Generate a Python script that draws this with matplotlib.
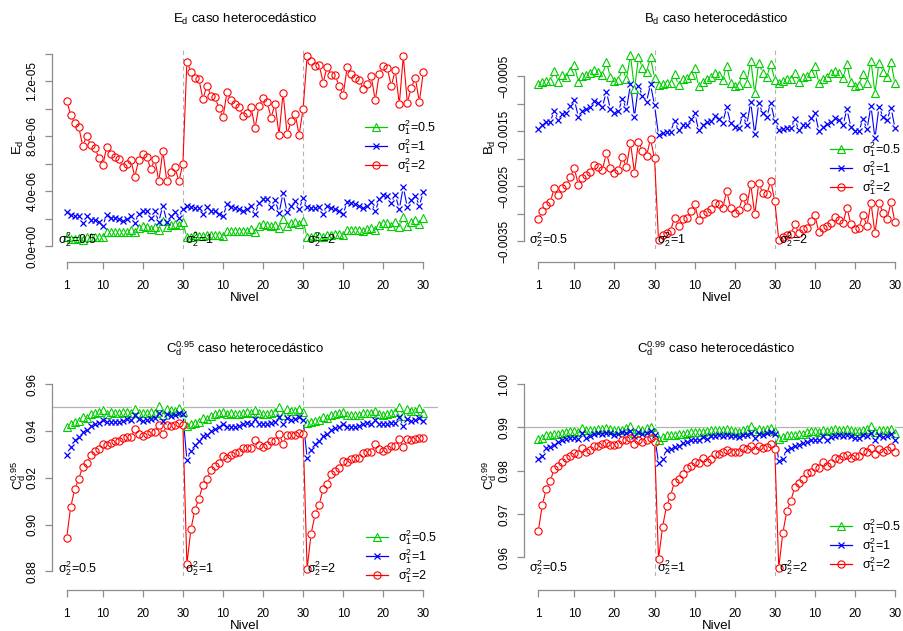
import numpy as np
import matplotlib
matplotlib.use("Agg")
import matplotlib.pyplot as plt
from matplotlib.lines import Line2D

plt.rcParams['font.family'] = ['Liberation Sans', 'DejaVu Sans']
plt.rcParams['mathtext.fontset'] = 'custom'
plt.rcParams['mathtext.rm'] = 'Liberation Sans'
plt.rcParams['mathtext.it'] = 'Liberation Sans:italic'
plt.rcParams['mathtext.bf'] = 'Liberation Sans:bold'

# ---- data: 3 blocks (sigma2^2 = 0.5, 1, 2) x 30 levels ----
nivel = np.arange(1, 91)
xtick_pos = [1, 10, 20, 30, 40, 50, 60, 70, 80, 90]
xtick_lab = ['1', '10', '20', '30', '10', '20', '30', '10', '20', '30']
series_labels = [r'$\mathrm{\sigma}_1^2$=0.5', r'$\mathrm{\sigma}_1^2$=1', r'$\mathrm{\sigma}_1^2$=2']
block_labels = [r'$\mathrm{\sigma}_2^2$=0.5', r'$\mathrm{\sigma}_2^2$=1', r'$\mathrm{\sigma}_2^2$=2']

# E_d (x 1e-6)
ed_green = np.array([
    0.65, 0.56, 0.56, 0.58, 0.48, 0.68, 0.68, 0.68, 0.68, 0.65, 1.02, 1.02, 1.02, 1.02, 1.02,
    1.02, 1.16, 1.02, 1.33, 1.45, 1.40, 1.28, 1.40, 1.21, 1.86, 1.38, 1.57, 1.62, 1.57, 1.74,
    0.65, 0.65, 0.80, 0.73, 0.73, 0.85, 0.85, 0.85, 0.85, 0.77, 1.14, 1.14, 1.09, 1.09, 1.09,
    1.14, 1.26, 1.04, 1.52, 1.62, 1.57, 1.45, 1.57, 1.33, 2.01, 1.45, 1.69, 1.77, 1.62, 1.86,
    0.65, 0.65, 0.73, 0.73, 0.68, 0.85, 0.85, 0.92, 0.92, 0.85, 1.16, 1.16, 1.16, 1.16, 1.14,
    1.26, 1.33, 1.16, 1.57, 1.69, 1.69, 1.52, 1.74, 1.40, 2.13, 1.52, 1.81, 1.93, 1.62, 2.06]) * 1e-6
ed_blue = np.array([
    2.47, 2.30, 2.18, 2.18, 1.69, 2.18, 1.93, 1.93, 1.74, 1.52, 2.30, 2.10, 2.03, 1.98, 1.86,
    1.98, 2.18, 1.69, 2.37, 2.54, 2.54, 2.10, 2.54, 1.81, 2.97, 1.81, 2.18, 2.49, 2.10, 2.71,
    2.97, 2.83, 2.78, 2.78, 2.35, 2.83, 2.59, 2.54, 2.37, 2.18, 3.05, 2.85, 2.78, 2.71, 2.54,
    2.71, 2.97, 2.35, 3.14, 3.43, 3.43, 2.83, 3.39, 2.42, 3.87, 2.49, 2.97, 3.31, 2.71, 3.53,
    2.83, 2.78, 2.78, 2.83, 2.35, 2.97, 2.78, 2.73, 2.59, 2.35, 3.26, 3.14, 3.07, 2.97, 2.78,
    2.97, 3.22, 2.54, 3.43, 3.75, 3.70, 3.14, 3.75, 2.71, 4.33, 2.83, 3.39, 3.68, 2.97, 3.94]) * 1e-6
ed_red = np.array([
    10.57, 9.58, 8.95, 8.68, 7.33, 8.00, 7.35, 7.18, 6.46, 5.88, 7.25, 6.75, 6.48, 6.34, 5.78,
    5.97, 6.29, 5.08, 6.29, 6.70, 6.53, 5.59, 6.36, 4.72, 6.94, 4.74, 5.39, 5.78, 4.72, 6.02,
    13.42, 12.69, 12.21, 12.14, 10.71, 11.68, 10.95, 10.83, 10.08, 9.38, 11.20, 10.64, 10.32, 10.11, 9.48,
    9.72, 10.16, 8.58, 10.23, 10.78, 10.52, 9.36, 10.35, 8.10, 11.17, 8.15, 9.09, 9.65, 8.10, 9.99,
    13.83, 13.44, 13.13, 13.20, 11.90, 13.06, 12.48, 12.43, 11.65, 11.00, 13.03, 12.53, 12.26, 12.09, 11.46,
    11.82, 12.38, 10.61, 12.53, 13.13, 12.98, 11.63, 12.82, 10.32, 13.83, 10.45, 11.53, 12.26, 10.49, 12.69]) * 1e-6

# B_d (x 1e-3)
bd_green = np.array([
    -0.652, -0.615, -0.591, -0.591, -0.409, -0.603, -0.482, -0.512, -0.409, -0.300, -0.603, -0.500, -0.482, -0.452, -0.391,
    -0.421, -0.482, -0.239, -0.524, -0.585, -0.573, -0.361, -0.561, -0.118, -0.742, -0.161, -0.348, -0.421, -0.161, -0.530,
    -0.664, -0.652, -0.621, -0.621, -0.470, -0.664, -0.561, -0.542, -0.482, -0.361, -0.676, -0.603, -0.561, -0.512, -0.452,
    -0.482, -0.573, -0.312, -0.633, -0.676, -0.664, -0.464, -0.633, -0.221, -0.815, -0.258, -0.452, -0.512, -0.282, -0.573,
    -0.630, -0.591, -0.561, -0.561, -0.439, -0.603, -0.512, -0.500, -0.439, -0.318, -0.633, -0.561, -0.512, -0.452, -0.403,
    -0.452, -0.542, -0.288, -0.615, -0.676, -0.664, -0.464, -0.633, -0.221, -0.815, -0.258, -0.421, -0.512, -0.252, -0.633]) * 1e-3
bd_blue = np.array([
    -1.470, -1.391, -1.330, -1.330, -1.130, -1.300, -1.191, -1.167, -1.045, -0.936, -1.239, -1.130, -1.106, -1.058, -0.955,
    -0.997, -1.058, -0.785, -1.106, -1.167, -1.136, -0.918, -1.106, -0.652, -1.239, -0.676, -0.864, -0.967, -0.652, -1.027,
    -1.573, -1.542, -1.512, -1.512, -1.318, -1.482, -1.391, -1.391, -1.282, -1.167, -1.482, -1.391, -1.342, -1.318, -1.227,
    -1.282, -1.348, -1.070, -1.361, -1.433, -1.451, -1.209, -1.391, -0.979, -1.561, -0.997, -1.167, -1.239, -0.985, -1.318,
    -1.482, -1.470, -1.451, -1.451, -1.288, -1.482, -1.391, -1.391, -1.270, -1.167, -1.494, -1.421, -1.373, -1.330, -1.258,
    -1.300, -1.391, -1.106, -1.433, -1.494, -1.500, -1.282, -1.470, -1.045, -1.633, -1.058, -1.239, -1.300, -1.076, -1.451]) * 1e-3
bd_red = np.array([
    -3.106, -2.948, -2.845, -2.797, -2.530, -2.664, -2.530, -2.482, -2.330, -2.179, -2.482, -2.361, -2.300, -2.239, -2.118,
    -2.148, -2.209, -1.894, -2.179, -2.258, -2.209, -1.979, -2.148, -1.712, -2.258, -1.694, -1.864, -1.955, -1.645, -1.997,
    -3.482, -3.391, -3.348, -3.312, -3.076, -3.227, -3.106, -3.088, -2.948, -2.827, -3.118, -3.015, -2.967, -2.918, -2.803,
    -2.833, -2.906, -2.591, -2.894, -2.985, -2.936, -2.706, -2.888, -2.464, -3.015, -2.452, -2.621, -2.652, -2.409, -2.773,
    -3.482, -3.421, -3.391, -3.379, -3.197, -3.361, -3.282, -3.258, -3.136, -3.027, -3.342, -3.270, -3.221, -3.179, -3.058,
    -3.118, -3.179, -2.894, -3.197, -3.288, -3.258, -3.027, -3.221, -2.803, -3.361, -2.803, -2.985, -3.100, -2.797, -3.161]) * 1e-3

# C_d^0.95
c95_green = np.array([
    0.9418, 0.9429, 0.9439, 0.9443, 0.9460, 0.9453, 0.9472, 0.9477, 0.9479, 0.9489, 0.9470, 0.9479, 0.9475, 0.9475, 0.9479,
    0.9479, 0.9477, 0.9492, 0.9475, 0.9475, 0.9477, 0.9482, 0.9477, 0.9506, 0.9467, 0.9492, 0.9489, 0.9486, 0.9496, 0.9479,
    0.9422, 0.9428, 0.9435, 0.9439, 0.9453, 0.9449, 0.9463, 0.9470, 0.9475, 0.9482, 0.9470, 0.9475, 0.9470, 0.9470, 0.9475,
    0.9479, 0.9477, 0.9489, 0.9475, 0.9470, 0.9470, 0.9475, 0.9479, 0.9503, 0.9467, 0.9492, 0.9486, 0.9485, 0.9492, 0.9479,
    0.9435, 0.9436, 0.9443, 0.9446, 0.9458, 0.9453, 0.9467, 0.9472, 0.9475, 0.9482, 0.9467, 0.9467, 0.9467, 0.9467, 0.9475,
    0.9477, 0.9475, 0.9486, 0.9470, 0.9467, 0.9470, 0.9475, 0.9479, 0.9503, 0.9463, 0.9492, 0.9486, 0.9486, 0.9496, 0.9477])
c95_blue = np.array([
    0.9299, 0.9332, 0.9361, 0.9372, 0.9396, 0.9403, 0.9420, 0.9429, 0.9432, 0.9446, 0.9439, 0.9439, 0.9436, 0.9439, 0.9442,
    0.9449, 0.9446, 0.9467, 0.9449, 0.9443, 0.9446, 0.9449, 0.9453, 0.9475, 0.9443, 0.9470, 0.9465, 0.9467, 0.9475, 0.9470,
    0.9275, 0.9314, 0.9339, 0.9356, 0.9378, 0.9382, 0.9400, 0.9410, 0.9418, 0.9428, 0.9418, 0.9418, 0.9418, 0.9420, 0.9429,
    0.9435, 0.9429, 0.9449, 0.9429, 0.9428, 0.9429, 0.9435, 0.9436, 0.9460, 0.9428, 0.9453, 0.9446, 0.9449, 0.9458, 0.9446,
    0.9285, 0.9318, 0.9346, 0.9356, 0.9379, 0.9386, 0.9403, 0.9413, 0.9418, 0.9428, 0.9418, 0.9418, 0.9418, 0.9420, 0.9429,
    0.9435, 0.9429, 0.9446, 0.9429, 0.9428, 0.9428, 0.9435, 0.9435, 0.9458, 0.9422, 0.9452, 0.9442, 0.9446, 0.9453, 0.9442])
c95_red = np.array([
    0.8943, 0.9075, 0.9150, 0.9194, 0.9247, 0.9261, 0.9296, 0.9315, 0.9321, 0.9346, 0.9339, 0.9349, 0.9356, 0.9356, 0.9371,
    0.9375, 0.9375, 0.9408, 0.9385, 0.9378, 0.9386, 0.9396, 0.9396, 0.9425, 0.9386, 0.9425, 0.9420, 0.9425, 0.9432, 0.9425,
    0.8830, 0.8980, 0.9064, 0.9111, 0.9168, 0.9194, 0.9235, 0.9249, 0.9264, 0.9292, 0.9285, 0.9296, 0.9306, 0.9311, 0.9325,
    0.9328, 0.9325, 0.9361, 0.9339, 0.9329, 0.9339, 0.9356, 0.9358, 0.9386, 0.9346, 0.9382, 0.9382, 0.9382, 0.9389, 0.9386,
    0.8812, 0.8961, 0.9044, 0.9085, 0.9151, 0.9175, 0.9214, 0.9228, 0.9242, 0.9272, 0.9265, 0.9278, 0.9285, 0.9285, 0.9304,
    0.9308, 0.9308, 0.9342, 0.9321, 0.9315, 0.9321, 0.9335, 0.9336, 0.9365, 0.9329, 0.9365, 0.9363, 0.9365, 0.9368, 0.9368])

# C_d^0.99
c99_green = np.array([
    0.9873, 0.9875, 0.9883, 0.9883, 0.9885, 0.9885, 0.9886, 0.9890, 0.9892, 0.9892, 0.9890, 0.9898, 0.9894, 0.9893, 0.9894,
    0.9896, 0.9896, 0.9898, 0.9896, 0.9893, 0.9894, 0.9894, 0.9898, 0.9904, 0.9888, 0.9896, 0.9894, 0.9898, 0.9900, 0.9889,
    0.9871, 0.9877, 0.9883, 0.9883, 0.9883, 0.9885, 0.9885, 0.9888, 0.9890, 0.9890, 0.9890, 0.9890, 0.9892, 0.9894, 0.9893,
    0.9894, 0.9894, 0.9896, 0.9894, 0.9892, 0.9890, 0.9894, 0.9896, 0.9903, 0.9892, 0.9896, 0.9894, 0.9896, 0.9898, 0.9892,
    0.9873, 0.9877, 0.9883, 0.9883, 0.9883, 0.9885, 0.9885, 0.9890, 0.9892, 0.9892, 0.9890, 0.9894, 0.9892, 0.9893, 0.9896,
    0.9894, 0.9894, 0.9896, 0.9893, 0.9892, 0.9892, 0.9894, 0.9896, 0.9902, 0.9889, 0.9894, 0.9893, 0.9894, 0.9896, 0.9886])
c99_blue = np.array([
    0.9827, 0.9834, 0.9852, 0.9854, 0.9860, 0.9865, 0.9870, 0.9873, 0.9875, 0.9875, 0.9873, 0.9886, 0.9875, 0.9880, 0.9885,
    0.9888, 0.9885, 0.9888, 0.9886, 0.9883, 0.9885, 0.9890, 0.9888, 0.9892, 0.9881, 0.9890, 0.9885, 0.9886, 0.9892, 0.9883,
    0.9817, 0.9827, 0.9847, 0.9850, 0.9854, 0.9857, 0.9863, 0.9867, 0.9871, 0.9871, 0.9871, 0.9877, 0.9873, 0.9879, 0.9880,
    0.9883, 0.9880, 0.9883, 0.9880, 0.9879, 0.9877, 0.9883, 0.9883, 0.9888, 0.9875, 0.9885, 0.9883, 0.9886, 0.9890, 0.9885,
    0.9823, 0.9827, 0.9848, 0.9852, 0.9857, 0.9860, 0.9863, 0.9867, 0.9871, 0.9871, 0.9870, 0.9880, 0.9871, 0.9877, 0.9880,
    0.9883, 0.9880, 0.9883, 0.9880, 0.9875, 0.9875, 0.9883, 0.9880, 0.9888, 0.9871, 0.9883, 0.9877, 0.9880, 0.9885, 0.9871])
c99_red = np.array([
    0.9660, 0.9720, 0.9758, 0.9777, 0.9804, 0.9810, 0.9821, 0.9830, 0.9833, 0.9840, 0.9839, 0.9852, 0.9842, 0.9848, 0.9857,
    0.9858, 0.9861, 0.9863, 0.9860, 0.9860, 0.9861, 0.9870, 0.9870, 0.9875, 0.9862, 0.9870, 0.9867, 0.9870, 0.9876, 0.9865,
    0.9596, 0.9670, 0.9718, 0.9742, 0.9775, 0.9781, 0.9793, 0.9806, 0.9811, 0.9819, 0.9817, 0.9829, 0.9821, 0.9827, 0.9838,
    0.9839, 0.9843, 0.9847, 0.9842, 0.9844, 0.9844, 0.9853, 0.9850, 0.9858, 0.9848, 0.9857, 0.9852, 0.9854, 0.9861, 0.9850,
    0.9576, 0.9656, 0.9706, 0.9731, 0.9762, 0.9771, 0.9781, 0.9794, 0.9798, 0.9808, 0.9807, 0.9819, 0.9811, 0.9817, 0.9830,
    0.9827, 0.9833, 0.9837, 0.9830, 0.9834, 0.9833, 0.9846, 0.9842, 0.9852, 0.9839, 0.9850, 0.9842, 0.9848, 0.9854, 0.9844])

# ---- styling ----
GREEN, BLUE, RED = '#00cd00', '#0000ff', '#ff0000'
AXCOL = '#8c8c8c'
styles = [dict(color=GREEN, marker='^', ms=5.6, mfc='none', mew=0.8),
          dict(color=BLUE, marker='x', ms=4.4, mew=0.9),
          dict(color=RED, marker='o', ms=5.2, mfc='none', mew=0.8)]

W, H = 904, 631
fig = plt.figure(figsize=(W / 100, H / 100), dpi=100)


def px_axes(left, top, right, bottom):
    return fig.add_axes([left / W, 1 - bottom / H, (right - left) / W, (bottom - top) / H])


def draw_panel(ax, ys, ylim, yticks, yticklabels, ybounds, ylab, title, text_y,
               legend_xy, hline=None):
    ax.set_xlim(-2.56, 93.56)
    ax.set_ylim(*ylim)
    for v in (30, 60):
        ax.axvline(v, color='#b4b4b4', ls=(0, (4, 3)), lw=0.8, zorder=1)
    if hline is not None:
        ax.axhline(hline, color='#b4b4b4', lw=0.9, zorder=1)
    # lines with gaps at the points, like R's type="b"
    for y, st in zip(ys, styles):
        ax.plot(nivel, y, color=st['color'], lw=0.8, zorder=2)
    for y in ys:
        ax.plot(nivel, y, ls='none', marker='o', ms=6.0, mfc='white', mec='none', zorder=3)
    for y, st in zip(ys, styles):
        ax.plot(nivel, y, ls='none', zorder=4, **st)

    for xt, lab in zip((-1.2, 30.5, 61.0), block_labels):
        ax.text(xt, text_y, lab, ha='left', va='center', fontsize=9, zorder=5)

    handles = [Line2D([], [], lw=0.9, **st) for st in styles]
    ax.legend(handles, series_labels, loc='center left',
              bbox_to_anchor=(legend_xy[0] / W, 1 - legend_xy[1] / H),
              bbox_transform=fig.transFigure, frameon=False, fontsize=9,
              handlelength=1.75, handletextpad=0.8, labelspacing=0.02,
              borderpad=0, borderaxespad=0)

    for s in ('top', 'right'):
        ax.spines[s].set_visible(False)
    ax.spines['bottom'].set_position(('outward', 9.7))
    ax.spines['bottom'].set_bounds(1, 90)
    ax.spines['left'].set_bounds(*ybounds)
    for s in ('bottom', 'left'):
        ax.spines[s].set_color(AXCOL)
        ax.spines[s].set_linewidth(0.9)

    ax.set_xticks(xtick_pos)
    ax.set_xticklabels(xtick_lab)
    ax.set_yticks(yticks)
    ax.set_yticklabels(yticklabels, rotation=90, va='center')
    ax.tick_params(axis='both', length=5, width=0.9, color=AXCOL, labelsize=8.5)
    ax.tick_params(axis='x', pad=8)
    ax.tick_params(axis='y', pad=5)

    ax.set_xlabel('Nivel', fontsize=9.5)
    ax.xaxis.set_label_coords(0.5, -0.245)
    ax.xaxis.label.set_va('center')
    ax.set_ylabel(ylab, fontsize=9.5)
    ax.yaxis.set_label_coords(-0.088, 0.5)
    ax.yaxis.label.set_va('center')
    ax.text(0.5, 1.132, title, transform=ax.transAxes, ha='center', va='center', fontsize=9.5)


ax1 = px_axes(52.4, 46.5, 437.6, 248.5)
draw_panel(ax1, [ed_green, ed_blue, ed_red], (-1.5e-7, 1.4525e-5),
           [0, 2e-6, 4e-6, 6e-6, 8e-6, 1e-5, 1.2e-5, 1.4e-5],
           ['0.0e+00', '', '4.0e-06', '', '8.0e-06', '', '1.2e-05', ''],
           (0, 1.4e-5), r'$\mathrm{E}_\mathrm{d}$',
           r'$\mathrm{E}_\mathrm{d}$ caso heterocedástico', 4.9e-7, (365, 146.5))

ax2 = px_axes(524.0, 46.5, 909.3, 248.5)
draw_panel(ax2, [bd_green, bd_blue, bd_red], (-0.003636, 0.0000364),
           [-0.0035, -0.003, -0.0025, -0.002, -0.0015, -0.001, -0.0005],
           ['\u22120.0035', '', '\u22120.0025', '', '\u22120.0015', '', '\u22120.0005'],
           (-0.0035, -0.0005), r'$\mathrm{B}_\mathrm{d}$',
           r'$\mathrm{B}_\mathrm{d}$ caso heterocedástico', -0.00348, (830, 168.5))

ax3 = px_axes(52.4, 375, 437.6, 576.3)
draw_panel(ax3, [c95_green, c95_blue, c95_red], (0.8779, 0.96385),
           [0.88, 0.90, 0.92, 0.94, 0.96],
           ['0.88', '0.90', '0.92', '0.94', '0.96'],
           (0.88, 0.96), r'$\mathrm{C}_\mathrm{d}^{0.95}$',
           r'$\mathrm{C}_\mathrm{d}^{0.95}$ caso heterocedástico', 0.8812, (366, 556.5),
           hline=0.95)

ax4 = px_axes(524.0, 375, 909.3, 576.3)
draw_panel(ax4, [c99_green, c99_blue, c99_red], (0.95563, 1.00207),
           [0.96, 0.97, 0.98, 0.99, 1.00],
           ['0.96', '0.97', '0.98', '0.99', '1.00'],
           (0.96, 1.00), r'$\mathrm{C}_\mathrm{d}^{0.99}$',
           r'$\mathrm{C}_\mathrm{d}^{0.99}$ caso heterocedástico', 0.95756, (830, 545.5),
           hline=0.99)

fig.savefig('out.png', dpi=100)
